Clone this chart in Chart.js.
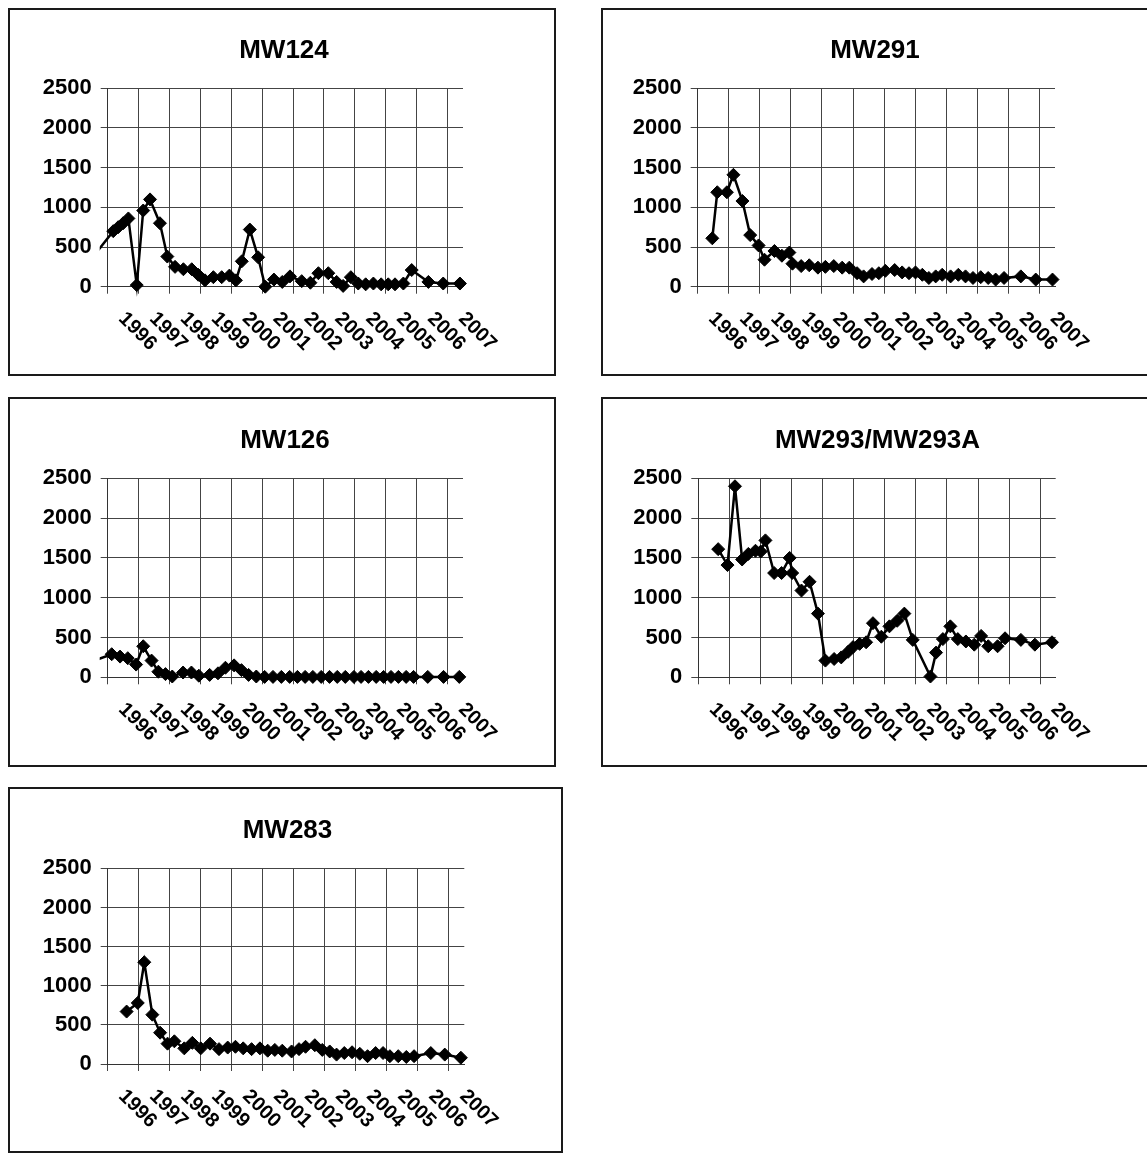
<!DOCTYPE html>
<html>
<head>
<meta charset="utf-8">
<title>Monitoring wells 1996–2007</title>
<script src="https://cdn.jsdelivr.net/npm/chart.js@4.4.1/dist/chart.umd.min.js"></script>
<style>
  html, body { margin: 0; padding: 0; background: #fff; }
  body { width: 1147px; height: 1154px; position: relative; overflow: hidden; }
  .panel { position: absolute; box-sizing: border-box; border: 2px solid #1a1a1a; background: #fff; }
  .panel canvas { display: block; }
</style>
</head>
<body>
<div class="panel" id="p1"><canvas id="c1"></canvas></div>
<div class="panel" id="p2"><canvas id="c2"></canvas></div>
<div class="panel" id="p3"><canvas id="c3"></canvas></div>
<div class="panel" id="p4"><canvas id="c4"></canvas></div>
<div class="panel" id="p5"><canvas id="c5"></canvas></div>
<script>
// ---- data -------------------------------------------------------------
const yearLabels = ['1996','1997','1998','1999','2000','2001','2002','2003','2004','2005','2006','2007'];

// sample dates as decimal years, values per sample
const mw124Dates  = [1995.5, 1996.18, 1996.34, 1996.5, 1996.67, 1996.94, 1997.15, 1997.37, 1997.69, 1997.93,
                     1998.18, 1998.45, 1998.72, 1998.93, 1999.15, 1999.42, 1999.69, 1999.94, 2000.15, 2000.34,
                     2000.6, 2000.87, 2001.1, 2001.38, 2001.65, 2001.9, 2002.28, 2002.56, 2002.82, 2003.14,
                     2003.41, 2003.62, 2003.87, 2004.11, 2004.35, 2004.6, 2004.85, 2005.08, 2005.3, 2005.57,
                     2005.84, 2006.38, 2006.86, 2007.4];
const mw124Values = [365, 700, 750, 800, 860, 20, 960, 1100, 800, 380,
                     250, 220, 220, 150, 80, 120, 120, 140, 80, 320,
                     720, 370, 0, 90, 60, 130, 70, 50, 170, 170,
                     60, 10, 120, 40, 30, 40, 30, 30, 30, 40,
                     210, 60, 40, 40];

const mw291Dates  = [1996.47, 1996.63, 1996.94, 1997.15, 1997.44, 1997.69, 1997.96, 1998.15, 1998.47, 1998.71,
                     1998.95, 1999.05, 1999.33, 1999.59, 1999.87, 2000.11, 2000.38, 2000.65, 2000.88, 2001.13,
                     2001.34, 2001.61, 2001.83, 2002.04, 2002.34, 2002.58, 2002.8, 2003.01, 2003.23, 2003.44,
                     2003.66, 2003.87, 2004.14, 2004.39, 2004.62, 2004.86, 2005.11, 2005.35, 2005.59, 2005.86,
                     2006.4, 2006.88, 2007.42];
const mw291Values = [610, 1190, 1190, 1410, 1080, 650, 520, 340, 450, 390,
                     430, 290, 260, 270, 240, 250, 260, 240, 240, 170,
                     130, 160, 170, 200, 210, 180, 170, 180, 150, 110,
                     130, 150, 130, 150, 130, 110, 120, 110, 90, 110,
                     130, 90, 90];

const mw126Dates  = [1995.5, 1996.13, 1996.4, 1996.65, 1996.92, 1997.15, 1997.42, 1997.64, 1997.87, 1998.09,
                     1998.44, 1998.71, 1998.95, 1999.3, 1999.57, 1999.81, 2000.09, 2000.33, 2000.56, 2000.81,
                     2001.08, 2001.35, 2001.62, 2001.89, 2002.14, 2002.39, 2002.64, 2002.91, 2003.18, 2003.43,
                     2003.69, 2003.97, 2004.2, 2004.44, 2004.69, 2004.93, 2005.17, 2005.41, 2005.66, 2005.9,
                     2006.36, 2006.87, 2007.38];
const mw126Values = [200, 290, 260, 240, 160, 390, 210, 70, 40, 10,
                     60, 60, 20, 30, 50, 120, 150, 90, 30, 10,
                     5, 5, 5, 5, 5, 5, 5, 5, 5, 5,
                     5, 5, 5, 5, 5, 5, 5, 5, 5, 5,
                     5, 5, 5];

const mw293Dates  = [1996.64, 1996.94, 1997.18, 1997.41, 1997.61, 1997.84, 1998.01, 1998.16, 1998.44, 1998.68,
                     1998.94, 1999.02, 1999.32, 1999.58, 1999.85, 2000.09, 2000.37, 2000.6, 2000.82, 2000.98,
                     2001.19, 2001.4, 2001.62, 2001.89, 2002.15, 2002.4, 2002.63, 2002.9, 2003.47, 2003.65,
                     2003.87, 2004.11, 2004.35, 2004.61, 2004.88, 2005.1, 2005.33, 2005.63, 2005.87, 2006.38,
                     2006.83, 2007.38];
const mw293Values = [1610, 1410, 2400, 1480, 1550, 1590, 1580, 1720, 1310, 1310,
                     1500, 1310, 1090, 1200, 800, 210, 230, 250, 320, 380,
                     420, 440, 680, 510, 640, 710, 800, 470, 10, 310,
                     480, 640, 480, 450, 410, 520, 390, 390, 490, 470,
                     410, 440];

const mw283Dates  = [1996.61, 1996.97, 1997.18, 1997.44, 1997.69, 1997.93, 1998.15, 1998.47, 1998.73, 1999.0,
                     1999.3, 1999.59, 1999.87, 2000.12, 2000.37, 2000.64, 2000.91, 2001.16, 2001.39, 2001.63,
                     2001.93, 2002.17, 2002.38, 2002.68, 2002.92, 2003.16, 2003.38, 2003.63, 2003.88, 2004.13,
                     2004.38, 2004.64, 2004.88, 2005.1, 2005.37, 2005.63, 2005.88, 2006.42, 2006.87, 2007.39];
const mw283Values = [670, 780, 1300, 630, 400, 260, 290, 200, 270, 200,
                     260, 190, 210, 220, 200, 190, 200, 170, 180, 170,
                     160, 190, 220, 240, 180, 160, 120, 140, 150, 130,
                     100, 140, 140, 100, 100, 90, 100, 140, 120, 80];

// ---- layout -----------------------------------------------------------
const FONT = '"Liberation Sans", Arial, Helvetica, sans-serif';
const AXIS_START = 1996, AXIS_END = 2007.5;

const panels = [
  { canvas: 'c1', div: 'p1', title: 'MW124',        dates: mw124Dates, values: mw124Values,
    box: [8, 8, 548, 368],     area: { left: 97.7, right: 453,   top: 78.3, bottom: 276.7 }, titleTop: 28,   padL: 4 },
  { canvas: 'c2', div: 'p2', title: 'MW291',        dates: mw291Dates, values: mw291Values,
    box: [601, 8, 548, 368],   area: { left: 94.7, right: 452,   top: 78.3, bottom: 276.7 }, titleTop: 28,   padL: 0 },
  { canvas: 'c3', div: 'p3', title: 'MW126',        dates: mw126Dates, values: mw126Values,
    box: [8, 397, 548, 370],   area: { left: 97.7, right: 453,   top: 79.3, bottom: 278.3 }, titleTop: 29,   padL: 6 },
  { canvas: 'c4', div: 'p4', title: 'MW293/MW293A', dates: mw293Dates, values: mw293Values,
    box: [601, 397, 548, 370], area: { left: 95.3, right: 452.7, top: 79.3, bottom: 278.3 }, titleTop: 29,   padL: 5 },
  { canvas: 'c5', div: 'p5', title: 'MW283',        dates: mw283Dates, values: mw283Values,
    box: [8, 787, 555, 366],   area: { left: 97.7, right: 454.3, top: 79.3, bottom: 275 },   titleTop: 28.5, padL: 4 }
];

// rotated year labels under the date axis, reading downward to the right
const yearLabelPlugin = {
  id: 'yearLabels',
  afterDraw(chart) {
    const xs = chart.scales.x;
    const ctx = chart.ctx;
    ctx.save();
    ctx.font = 'bold 20px ' + FONT;
    ctx.fillStyle = '#000';
    ctx.textAlign = 'left';
    ctx.textBaseline = 'middle';
    xs.ticks.forEach(t => {
      const idx = Math.round(t.value) - AXIS_START;
      const label = yearLabels[idx];
      if (label === undefined) return;
      const px = xs.getPixelForValue(t.value);
      ctx.save();
      ctx.translate(px + 14, xs.top + 29);
      ctx.rotate(Math.PI / 4);
      ctx.fillText(label, 0, 0);
      ctx.restore();
    });
    ctx.restore();
  }
};

panels.forEach(p => {
  const div = document.getElementById(p.div);
  const [bx, by, bw, bh] = p.box;
  div.style.left = bx + 'px';
  div.style.top = by + 'px';
  div.style.width = bw + 'px';
  div.style.height = bh + 'px';
  const W = bw - 4, H = bh - 4;
  const cv = document.getElementById(p.canvas);
  cv.width = W; cv.height = H;
  cv.style.width = W + 'px'; cv.style.height = H + 'px';

  const titleSize = 26;
  const titleBottom = p.area.top - p.titleTop - titleSize;
  const points = p.dates.map((d, i) => ({ x: d, y: p.values[i] }));

  new Chart(cv, {
    type: 'line',
    data: {
      datasets: [{
        data: points,
        borderColor: '#000',
        borderWidth: 2.5,
        backgroundColor: '#000',
        pointStyle: 'rectRot',
        pointRadius: ctx => (ctx.raw && ctx.raw.x < AXIS_START) ? 0 : 6.5,
        pointBackgroundColor: '#000',
        pointBorderColor: '#000',
        pointBorderWidth: 1,
        tension: 0,
        clip: { left: 8, right: 10, top: 10, bottom: 10 }
      }]
    },
    options: {
      responsive: false,
      animation: false,
      devicePixelRatio: 1,
      layout: { padding: { left: p.padL, top: 0, right: 0, bottom: 0 } },
      plugins: {
        legend: { display: false },
        tooltip: { enabled: false },
        title: {
          display: true,
          text: p.title,
          color: '#000',
          font: { family: FONT, size: titleSize, weight: 'bold', lineHeight: 1 },
          padding: { top: p.titleTop, bottom: titleBottom }
        }
      },
      scales: {
        x: {
          type: 'linear',
          min: AXIS_START,
          max: AXIS_END,
          ticks: { stepSize: 1, display: false, includeBounds: false },
          grid: { color: '#444', lineWidth: 1, tickLength: 7, drawTicks: true },
          border: { color: '#333', width: 1 },
          afterFit: s => { s.height = H - p.area.bottom; }
        },
        y: {
          min: 0,
          max: 2500,
          ticks: { stepSize: 500, color: '#000', padding: 9,
                   font: { family: FONT, size: 22, weight: 'bold' },
                   callback: v => String(v) },
          grid: { color: '#444', lineWidth: 1, tickLength: 7 },
          border: { color: '#333', width: 1 },
          afterFit: s => { s.width = p.area.left - p.padL; }
        },
        // empty right-hand margin of the plot
        yMargin: {
          position: 'right',
          ticks: { display: false },
          grid: { drawOnChartArea: false, drawTicks: false },
          border: { display: false },
          afterFit: s => { s.width = W - p.area.right; }
        }
      }
    },
    plugins: [yearLabelPlugin]
  });
});
</script>
</body>
</html>
